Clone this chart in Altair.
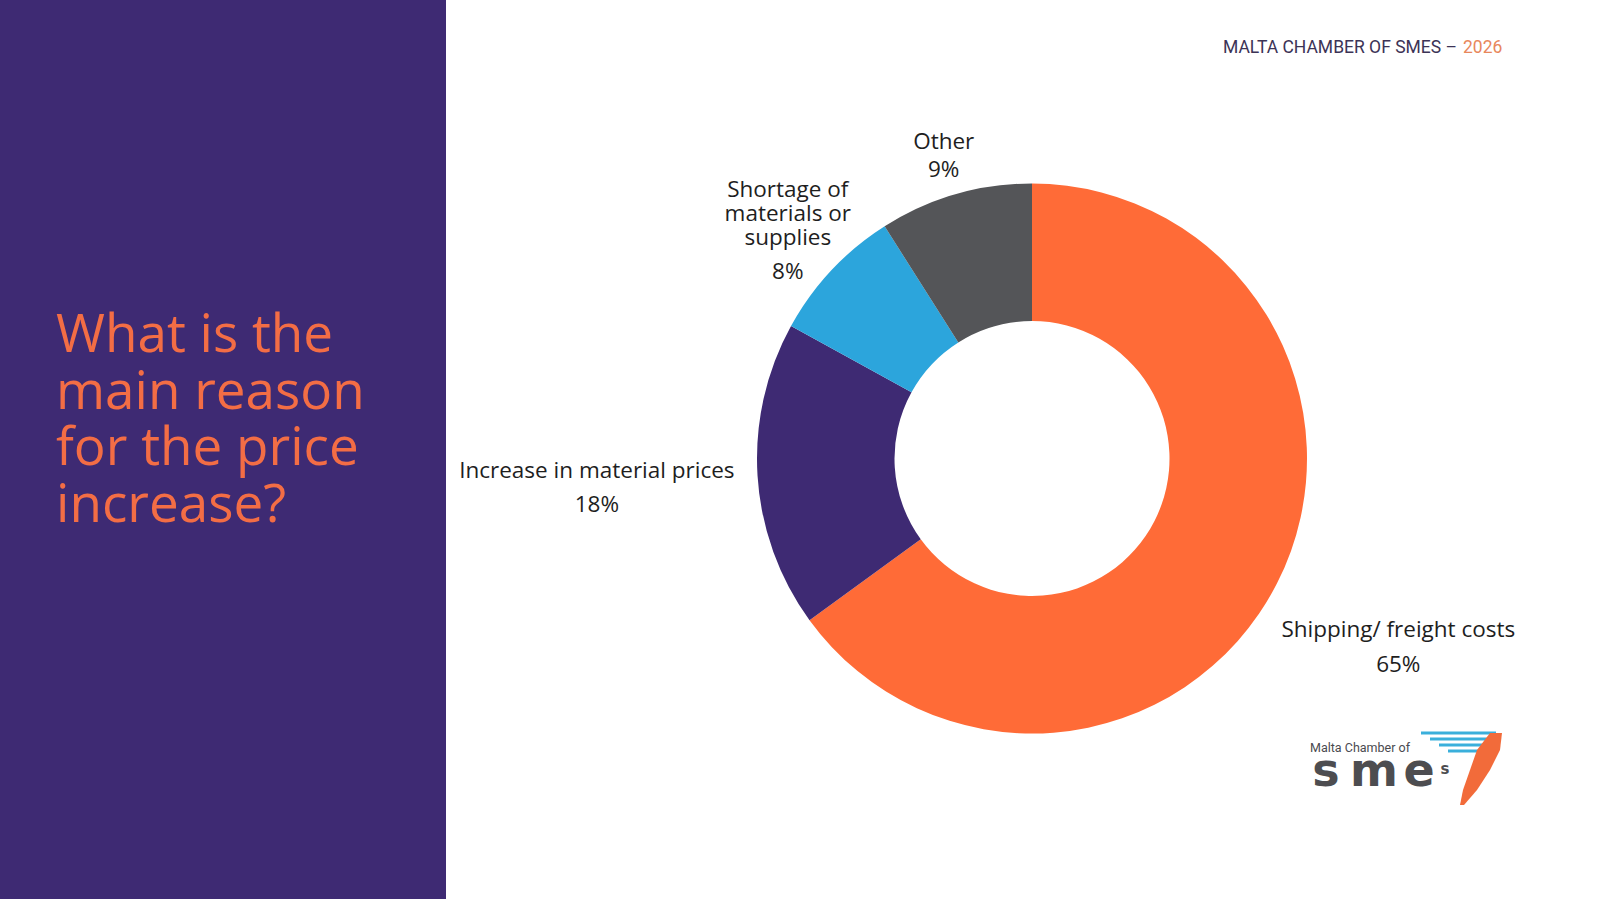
import altair as alt
import pandas as pd

# ---------------- data ----------------
categories = ["Shipping/ freight costs", "Increase in material prices",
              "Shortage of materials or supplies", "Other"]
shares = [65, 18, 8, 9]
slice_colors = ["#FF6B37", "#3E2A73", "#2CA5DC", "#545558"]
label_lines = [["Shipping/ freight costs"], ["Increase in material prices"],
               ["Shortage of", "materials or", "supplies"], ["Other"]]
title_lines = ["What is the", "main reason", "for the price", "increase?"]
header_main = "MALTA CHAMBER OF SMES \u2013"
header_year = "2026"

W, H = 1600, 899
CX, CY = 1032, 458.5
R_OUT, R_IN = 275, 137.5
FONT = "Open Sans"

df = pd.DataFrame({
    "cat": categories,
    "share": shares,
    "order": list(range(len(categories))),
    "pct": [f"{v}%" for v in shares],
})
one = pd.DataFrame({"k": [0]})

theta_scale = alt.Scale(domain=[0, 100])


def stacked(chart):
    return chart.transform_stack(
        stack="share", as_=["start", "end"], groupby=[],
        sort=[alt.SortField("order", order="ascending")]
    ).transform_calculate(mid="(datum.start + datum.end) / 2")


# background panel
panel = alt.Chart(one).mark_rect(color="#3E2A73").encode(
    x=alt.value(0), x2=alt.value(446), y=alt.value(0), y2=alt.value(H))

title = alt.Chart(one).mark_text(
    text=title_lines, font=FONT, fontSize=53, lineHeight=56.7,
    color="#F36D45", align="left", baseline="alphabetic"
).encode(x=alt.value(56), y=alt.value(352))

header1 = alt.Chart(one).mark_text(
    text=header_main, font="Roboto", fontSize=17.5, color="#3C3356",
    align="right", baseline="alphabetic"
).encode(x=alt.value(1457), y=alt.value(53))
header2 = alt.Chart(one).mark_text(
    text=header_year, font="Roboto", fontSize=17.5, color="#E8875C",
    align="left", baseline="alphabetic"
).encode(x=alt.value(1463), y=alt.value(53))

donut = stacked(alt.Chart(df)).mark_arc(radius=R_OUT, radius2=R_IN).encode(
    theta=alt.Theta("start:Q", scale=theta_scale),
    theta2="end:Q",
    color=alt.Color("cat:N", scale=alt.Scale(domain=categories, range=slice_colors),
                    legend=None),
    x=alt.value(CX), y=alt.value(CY),
)

# label placement: (radius, dx, dy of name, dy of percentage, line height)
label_layout = {
    "Shipping/ freight costs": (410, 1, -7.6, 27.4, 24),
    "Increase in material prices": (436, 0, -7.9, 26.1, 24),
    "Shortage of materials or supplies": (335, 0, -32.5, 50, 24),
    "Other": (320, 1, -2.2, 25.8, 24),
}

label_layers = []
for cat, lines in zip(categories, label_lines):
    r, dx, dy_name, dy_pct, lh = label_layout[cat]
    base = stacked(alt.Chart(df)).transform_filter(alt.datum.cat == cat)
    enc = dict(theta=alt.Theta("mid:Q", scale=theta_scale),
               x=alt.value(CX), y=alt.value(CY))
    name = base.mark_text(
        text=lines, radius=r, dx=dx, dy=dy_name, lineHeight=lh, font=FONT,
        fontSize=22.5, color="#1E1E1E", align="center", baseline="alphabetic"
    ).encode(**enc)
    pct = base.mark_text(
        radius=r, dx=dx, dy=dy_pct, font=FONT, fontSize=22.5, color="#1E1E1E",
        align="center", baseline="alphabetic"
    ).encode(text="pct:N", **enc)
    label_layers += [name, pct]

# ---------------- logo (decoration) ----------------
logo_small = alt.Chart(one).mark_text(
    text="Malta Chamber of", font="Roboto", fontSize=12.5, color="#4A4A4F",
    align="left", baseline="alphabetic").encode(x=alt.value(1310), y=alt.value(752))
logo_letters = []
for ch, xx in zip(["s", "m", "e"], [1326, 1374, 1419]):
    logo_letters.append(alt.Chart(one).mark_text(
        text=ch, font="DejaVu Sans", fontWeight="bold", fontSize=46, color="#4D4D50",
        align="center", baseline="alphabetic").encode(x=alt.value(xx), y=alt.value(786)))
logo_sup = alt.Chart(one).mark_text(
    text="s", font="DejaVu Sans", fontWeight="bold", fontSize=15, color="#4D4D50",
    align="center", baseline="alphabetic").encode(x=alt.value(1445), y=alt.value(774))

stripes = []
for x1, yy in zip([1421, 1430, 1439, 1448], [733, 739, 745, 751]):
    stripes.append(alt.Chart(one).mark_rule(color="#3AAFDB", strokeWidth=3).encode(
        x=alt.value(x1), x2=alt.value(1496), y=alt.value(yy)))
swoosh_df = pd.DataFrame({
    "py": [733, 750, 770, 790, 805],
    "xl": [1490, 1477, 1470, 1463, 1460],
    "xr": [1502, 1500, 1490, 1477, 1464],
})
swoosh = alt.Chart(swoosh_df).mark_area(color="#F26B3A", orient="horizontal").encode(
    y=alt.Y("py:Q", scale=None), x=alt.X("xl:Q", scale=None), x2="xr:Q")

chart = alt.layer(
    panel, title, header1, header2, donut, *label_layers,
    logo_small, *logo_letters, logo_sup, *stripes, swoosh
).properties(
    width=W, height=H, autosize=alt.AutoSizeParams(type="none"), padding=0,
    background="white"
).configure_view(stroke=None)

chart.save("out.html", embed_options={"renderer": "svg", "actions": False})
